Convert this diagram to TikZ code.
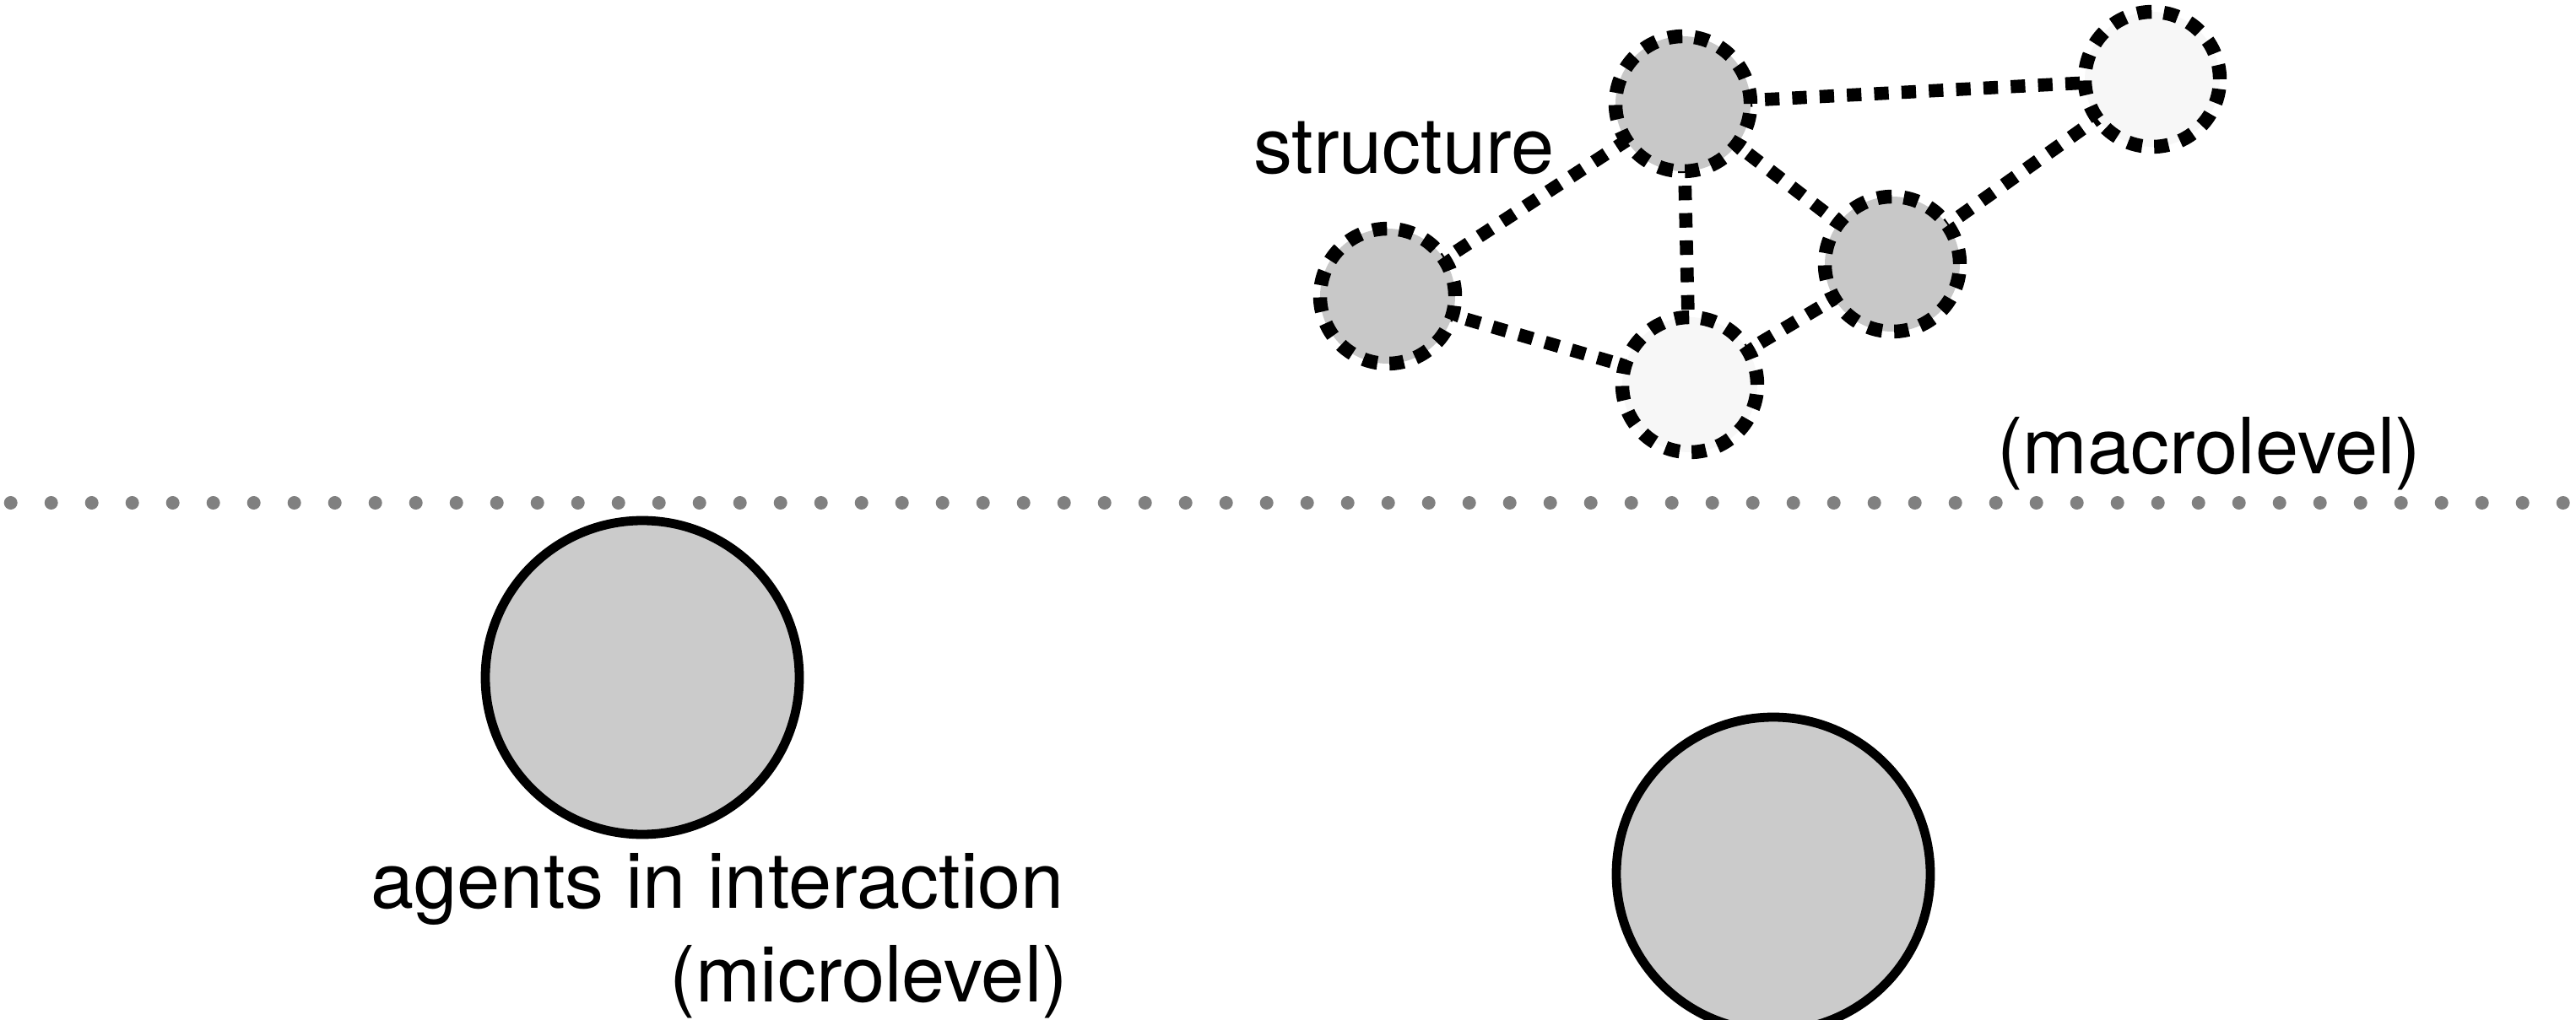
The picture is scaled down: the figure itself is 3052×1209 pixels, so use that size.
\documentclass[tikz,border=0pt]{standalone}
\usepackage{fontspec}
\setmainfont{TeX Gyre Heros}
\usetikzlibrary{backgrounds}
\definecolor{agentgray}{RGB}{203,203,203}
\definecolor{darkfill}{RGB}{200,200,200}
\definecolor{lightfill}{RGB}{247,247,247}
\definecolor{levelgray}{RGB}{128,128,128}
\begin{document}
\begin{tikzpicture}[x=0.25pt,y=-0.25pt,
  agent/.style={circle, draw=black, line width=2.7pt, fill=agentgray, minimum size=93pt, inner sep=0pt},
  snode/.style={circle, draw=black, line width=4.1pt, dash pattern=on 4.3pt off 3.6pt, minimum size=40pt, inner sep=0pt},
  darknode/.style={snode, fill=darkfill},
  lightnode/.style={snode, fill=lightfill},
  link/.style={draw=black, line width=3.9pt, dash pattern=on 4.3pt off 3.8pt},
  levelline/.style={draw=levelgray, line width=4pt, line cap=round, dash pattern=on 0pt off 12pt},
  lbl/.style={inner sep=0pt, outer sep=0pt, font=\fontsize{23}{27}\selectfont}]
\useasboundingbox (0,0) rectangle (3052,1209);
% level separator
\coordinate (l0) at (12.7,596);
\coordinate (l1) at (3052,596);
\draw[levelline] (l0) -- (l1);
% structure nodes
\node[darknode]  (na) at (1644,351) {};
\node[darknode]  (nb) at (1994,123) {};
\node[lightnode] (nc) at (2002,456) {};
\node[darknode]  (nd) at (2242,313) {};
\node[lightnode] (ne) at (2550,94) {};
\begin{pgfonlayer}{background}
\draw[link] (na.center) -- (nb.center);
\draw[link] (na.center) -- (nc.center);
\draw[link] (nb.center) -- (nc.center);
\draw[link] (nb.center) -- (nd.center);
\draw[link] (nb.center) -- (ne.center);
\draw[link] (nc.center) -- (nd.center);
\draw[link] (nd.center) -- (ne.center);
\end{pgfonlayer}
% agents
\node[agent] (ag1) at (761,803) {};
\node[agent] (ag2) at (2101,1036) {};
% labels
\node[lbl, anchor=base west] (tstruct) at (1485,206) {structure};
\node[lbl, anchor=base west] (tmacro) at (2366,561) {(macrolevel)};
\node[lbl, anchor=base east] (tagents) at (1261,1076) {agents in interaction};
\node[lbl, anchor=base east] (tmicro) at (1265,1187) {(microlevel)};
\end{tikzpicture}
\end{document}
